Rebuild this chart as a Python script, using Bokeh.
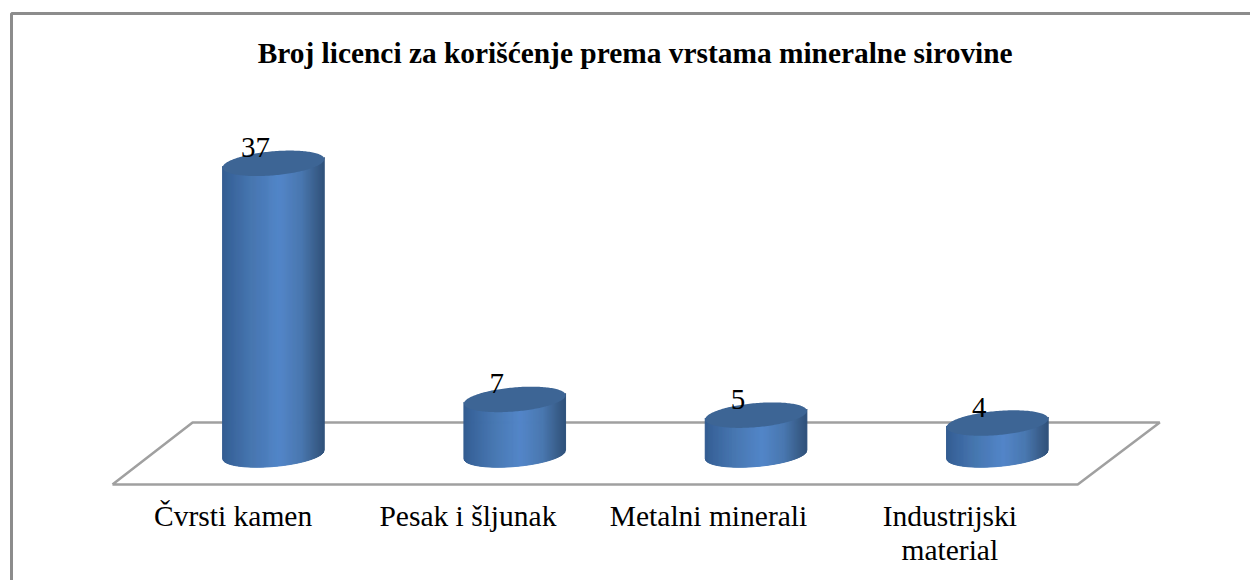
import numpy as np
from bokeh.plotting import figure
from bokeh.models import BoxAnnotation, ColumnDataSource, FixedTicker, Range1d
from bokeh.core.properties import value
from bokeh.embed import file_html
from bokeh.resources import INLINE

title_text = "Broj licenci za korišćenje prema vrstama mineralne sirovine"
categories = ["Čvrsti kamen", "Pesak i šljunak", "Metalni minerali", "Industrijski\nmaterial"]
tick_positions = [0.0, 0.973, 1.97, 2.97]
values = [37, 7, 5, 4]

PX_X = 241.3   # pixels per category
PX_Y = 7.87    # pixels per unit
FONT = "Liberation Serif"
DEPTH = 0.167  # bars stand in the middle of the floor

p = figure(
    width=1250, height=580, frame_width=1250, frame_height=580,
    min_border_top=0, min_border_bottom=0, min_border_left=0, min_border_right=0,
    x_range=Range1d(-0.964, 4.216), y_range=Range1d(-16.01, 57.69),
    output_backend="svg", toolbar_location=None, y_axis_location=None,
    background_fill_color="white", border_fill_color="white", outline_line_color=None,
)
p.grid.visible = False

ax = p.xaxis[0]
ax.fixed_location = -3.81
ax.ticker = FixedTicker(ticks=tick_positions)
ax.major_label_overrides = dict(zip(tick_positions, categories))
ax.axis_line_color = None
ax.major_tick_line_color = None
ax.minor_tick_line_color = None
ax.major_label_text_font = FONT
ax.major_label_text_font_size = "29.5px"
ax.major_label_text_color = "#000000"
ax.major_label_text_line_height = 1.05
ax.major_label_standoff = 10

# outer frame: only left and top edges are visible in the crop
p.add_layout(BoxAnnotation(left=11, top=13, right=1400, bottom=1000,
                           left_units="canvas", right_units="canvas",
                           top_units="canvas", bottom_units="canvas",
                           fill_alpha=0, line_color="#8C8C8C", line_alpha=1, line_width=3))

# title
p.text([1.666], [51.0], text=[title_text], text_font=value(FONT), text_font_size="29.4px",
       text_font_style="bold", text_color="#000000", text_align="center", text_baseline="middle")

# floor
FLOOR_BACK = 4.07
FLOOR_FRONT = -3.81
p.line([-0.5, -0.168, 3.84, 3.5, -0.5],
       [FLOOR_FRONT, FLOOR_BACK, FLOOR_BACK, FLOOR_FRONT, FLOOR_FRONT],
       line_color="#A0A0A0", line_width=2.5)

# cylinders
A, B, TH = 51.0, 12.0, np.radians(5)
t = np.linspace(0, 2 * np.pi, 181)
ex = A * np.cos(t) * np.cos(TH) - B * np.sin(t) * np.sin(TH)
ey = A * np.cos(t) * np.sin(TH) + B * np.sin(t) * np.cos(TH)   # pixels, up is positive

grid = np.linspace(ex.min(), ex.max(), 103)
low_y = []
for gx in grid:
    low_y.append(np.interp(gx, ex[t >= np.pi], ey[t >= np.pi]))
low_y = np.array(low_y)

stops = [0.0, 0.06, 0.3, 0.56, 0.78, 0.94, 1.0]
reds = [0x33, 0x38, 0x48, 0x53, 0x4A, 0x38, 0x30]
greens = [0x5C, 0x63, 0x78, 0x86, 0x78, 0x5C, 0x52]
blues = [0x90, 0x9A, 0xB2, 0xC9, 0xB0, 0x88, 0x7C]

strip_x, strip_y, strip_c = [], [], []
top_x, top_y = [], []
for i, v in enumerate(values):
    cx = i + DEPTH
    for j in range(len(grid) - 1):
        f = (j + 0.5) / (len(grid) - 1)
        col = "#%02x%02x%02x" % (int(np.interp(f, stops, reds)),
                                 int(np.interp(f, stops, greens)),
                                 int(np.interp(f, stops, blues)))
        x0 = cx + grid[j] / PX_X
        x1 = cx + grid[j + 1] / PX_X
        strip_x.append([x0, x1, x1, x0])
        strip_y.append([low_y[j] / PX_Y, low_y[j + 1] / PX_Y,
                        v + (low_y[j + 1] + 1.5) / PX_Y, v + (low_y[j] + 1.5) / PX_Y])
        strip_c.append(col)
    top_x.append(list(cx + ex / PX_X))
    top_y.append(list(v + ey / PX_Y))

p.patches(strip_x, strip_y, fill_color=strip_c, line_color=strip_c, line_width=1)
p.patches(top_x, top_y, fill_color="#3D6595", line_color=None)

labels = ColumnDataSource(dict(x=[i + DEPTH for i in range(len(values))], y=values,
                               t=[str(v) for v in values]))
p.text("x", "y", text="t", source=labels, text_font=value(FONT), text_font_size="29px",
       text_color="#000000", text_align="center", text_baseline="middle",
       x_offset=-18, y_offset=-16)

open("out.html", "w").write(file_html(p, INLINE))
